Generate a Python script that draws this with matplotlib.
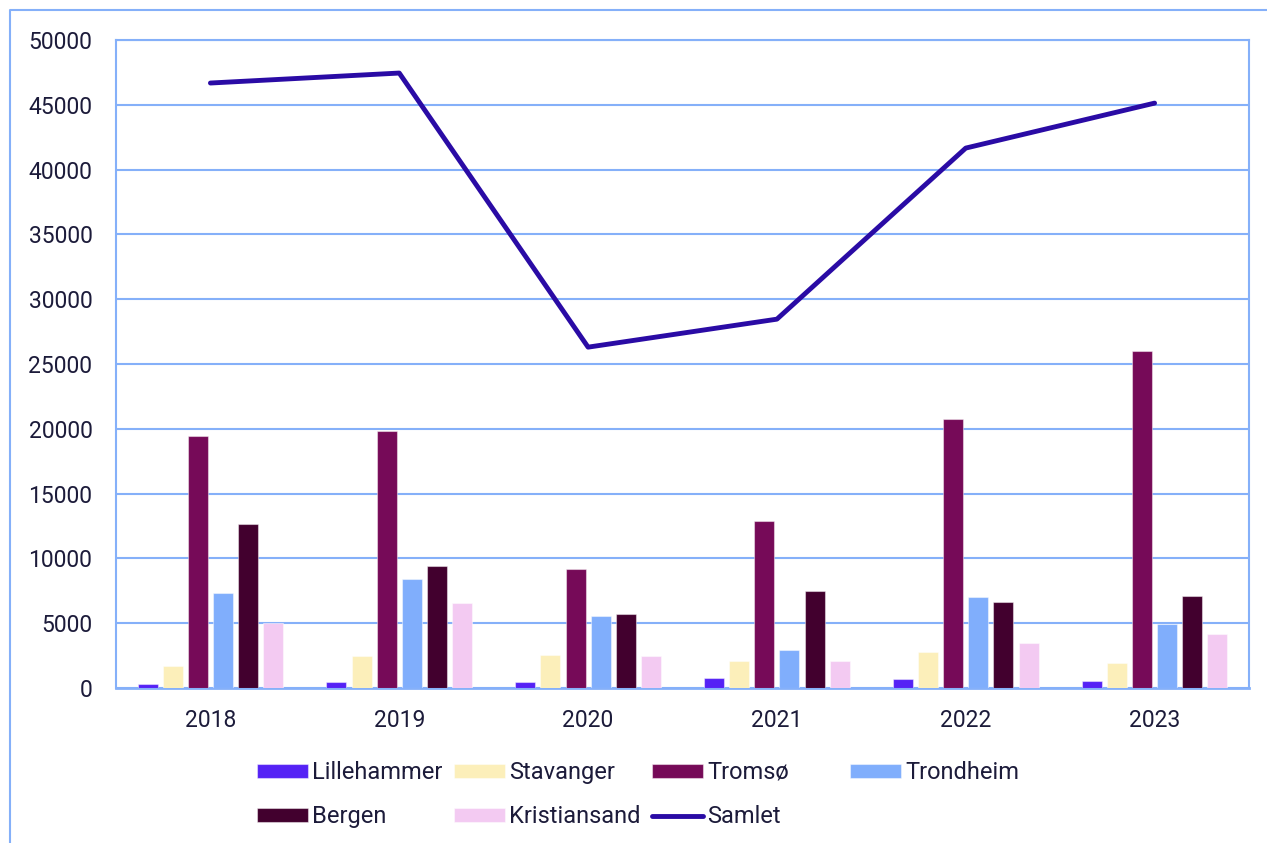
import matplotlib.pyplot as plt
import numpy as np
from matplotlib.lines import Line2D

plt.rcParams['font.family'] = ['Roboto', 'DejaVu Sans']

years = ['2018', '2019', '2020', '2021', '2022', '2023']
cities = ['Lillehammer', 'Stavanger', 'Tromsø', 'Trondheim', 'Bergen', 'Kristiansand']

lillehammer = [290, 460, 440, 750, 670, 570]
stavanger = [1720, 2470, 2520, 2060, 2780, 1910]
tromso = [19470, 19840, 9160, 12880, 20760, 26010]
trondheim = [7300, 8390, 5590, 2910, 7020, 4920]
bergen = [12630, 9390, 5710, 7460, 6620, 7130]
kristiansand = [5040, 6560, 2500, 2110, 3450, 4140]
samlet = [46680, 47450, 26300, 28460, 41660, 45130]

colors = ['#5522F5', '#FCEFBA', '#760A58', '#80AEFC', '#42002E', '#F3CAF2']
line_color = '#2A0BA5'
grid_color = '#85B0F9'
text_color = '#1C1B3A'

fig = plt.figure(figsize=(12.67, 8.43), dpi=100)
ax = fig.add_axes([116 / 1267, 155 / 843, 1133 / 1267, 648 / 843])

x = np.arange(len(years))
step = 0.133
width = 0.106
series = [lillehammer, stavanger, tromso, trondheim, bergen, kristiansand]
handles = []
for i, (vals, c, name) in enumerate(zip(series, colors, cities)):
    b = ax.bar(x + (i - 2.5) * step, vals, width, color=c, label=name,
               edgecolor=(1, 1, 1, 0.45), linewidth=0.8, zorder=3)
    handles.append(b)

ln, = ax.plot(x, samlet, color=line_color, lw=3.5, solid_capstyle='round',
              zorder=4, label='Samlet')
handles.append(ln)

ax.set_xlim(-0.5, 5.5)
ax.set_ylim(0, 50000)
ax.set_yticks(np.arange(0, 50001, 5000))
ax.set_xticks(x)
ax.set_xticklabels(years)
ax.yaxis.grid(True, color=grid_color, lw=1.5, zorder=0)
ax.set_axisbelow(True)
for s in ax.spines.values():
    s.set_color(grid_color)
    s.set_linewidth(1.5)
ax.spines['bottom'].set_linewidth(2)
ax.tick_params(length=0, labelsize=16.5, colors=text_color)
ax.tick_params(axis='y', pad=17)
ax.tick_params(axis='x', pad=15)

# outer frame (left and top edges visible)
fig.add_artist(Line2D([10 / 1267, 10 / 1267, 1.0], [0, 833 / 843, 833 / 843],
                      transform=fig.transFigure, color=grid_color, lw=1.5))

# legend laid out in fixed-width columns, row-major order
col_x = [257, 454, 652, 850]
rows = [[0, 4], [1, 5], [2, 6], [3]]
for cx, idx in zip(col_x, rows):
    leg = fig.legend([handles[k] for k in idx],
                     [handles[k].get_label() for k in idx],
                     loc='upper left', bbox_to_anchor=(cx / 1267, 1 - 761 / 843),
                     frameon=False, borderpad=0, borderaxespad=0,
                     handlelength=2.15, handleheight=0.55, handletextpad=0.2,
                     labelspacing=0.9, fontsize=17, labelcolor=text_color)

fig.savefig('out.png', dpi=100)
